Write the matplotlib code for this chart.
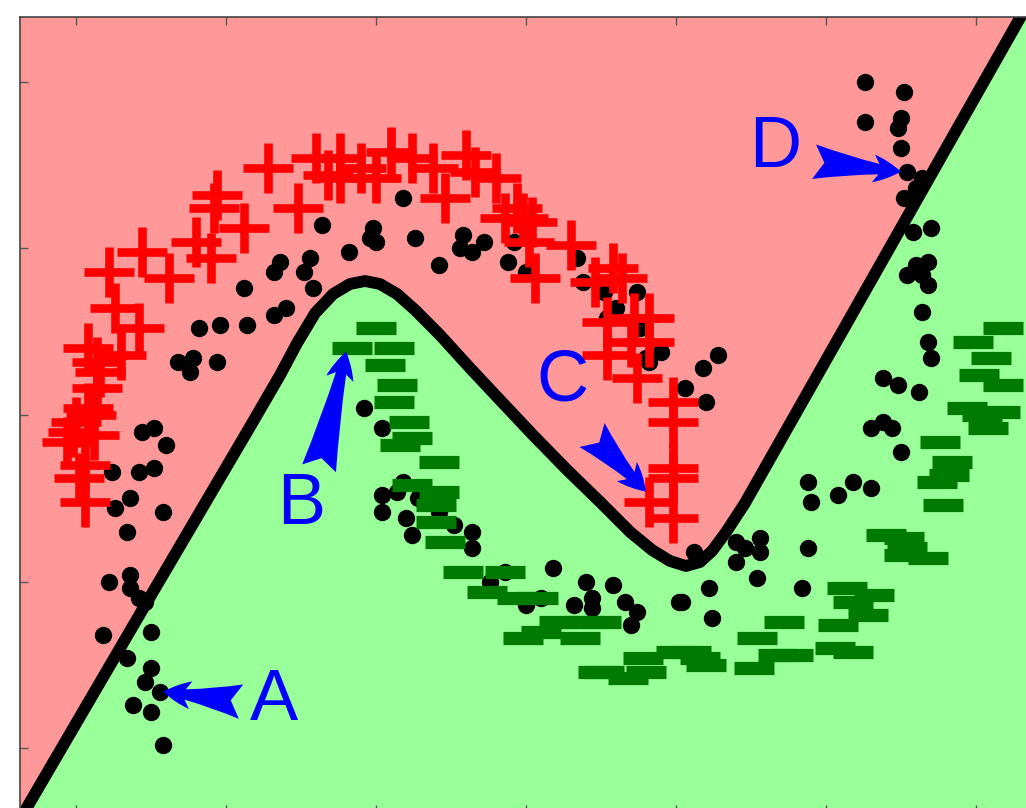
import matplotlib
matplotlib.use('Agg')
import matplotlib.pyplot as plt

# decision boundary between the two classes
boundary_x = [-1.227, -1.163, -0.787, -0.407, -0.320, -0.263, -0.203, -0.143, -0.087, -0.037,
              0.013, 0.070, 0.130, 0.213, 0.313, 0.413, 0.523, 0.637, 0.747, 0.847,
              0.920, 0.980, 1.033, 1.080, 1.120, 1.167, 1.230, 2.137, 2.213]
boundary_y = [-1.275, -1.176, -0.597, -0.015, 0.120, 0.216, 0.306, 0.363, 0.393, 0.402,
              0.393, 0.363, 0.315, 0.240, 0.141, 0.045, -0.060, -0.165, -0.261, -0.351,
              -0.405, -0.438, -0.453, -0.441, -0.408, -0.351, -0.264, 1.176, 1.296]

# labelled class +1 (upper moon)
red_x = [-1.01, -1.03, -0.95, -0.97, -0.99, -0.97, -0.96, -0.92, -0.93, -0.96,
         -0.93, -0.85, -0.79, -0.87, -0.89, -0.78, -0.69, -0.60, -0.55, -0.54,
         -0.53, -0.44, -0.26, -0.36, -0.20, -0.12, -0.12, -0.05, 0.00, 0.05,
         0.19, 0.23, 0.30, 0.33, 0.40, 0.43, 0.49, 0.52, 0.53, 0.51,
         0.65, 0.73, 0.79, 0.82, 0.91, 0.77, 0.85, 0.77, 0.87, 0.91,
         0.86, 0.99, 0.99, 0.99, 0.99, 0.99, 0.91, -1.00, -0.94, -0.16,
         0.12, 0.47]
red_y = [-0.05, -0.08, 0.00, -0.15, -0.19, -0.26, 0.20, 0.13, 0.08, 0.02,
         0.16, 0.18, 0.26, 0.32, 0.43, 0.49, 0.41, 0.52, 0.47, 0.62,
         0.66, 0.56, 0.62, 0.74, 0.77, 0.77, 0.71, 0.74, 0.71, 0.79,
         0.74, 0.65, 0.78, 0.73, 0.71, 0.59, 0.59, 0.58, 0.41, 0.52,
         0.51, 0.40, 0.44, 0.41, 0.29, 0.28, 0.22, 0.18, 0.11, 0.22,
         0.29, 0.04, -0.02, -0.16, -0.19, -0.31, -0.26, -0.02, -0.06, 0.72,
         0.77, 0.62]

# labelled class -1 (lower moon)
green_x = [0.00, -0.08, 0.06, 0.03, 0.07, 0.06, 0.11, 0.12, 0.08, 0.21,
           0.12, 0.21, 0.20, 0.20, 0.23, 0.29, 0.43, 0.37, 0.47, 0.54,
           0.61, 0.69, 0.75, 0.55, 0.49, 0.68, 0.89, 1.00, 0.74, 0.84,
           0.90, 0.76, 1.08, 1.10, 1.05, 1.36, 1.27, 1.34, 1.26, 1.39,
           1.57, 1.66, 1.59, 1.64, 1.54, 1.53, 1.59, 1.70, 1.76, 1.77,
           1.76, 1.84, 1.89, 1.87, 1.91, 1.92, 1.88, 2.04, 2.02, 1.97,
           2.08, 2.09, 2.01, 2.05, 1.99, 2.09]
green_y = [0.26, 0.20, 0.20, 0.15, 0.09, 0.04, -0.02, -0.07, -0.09, -0.14,
           -0.21, -0.23, -0.27, -0.32, -0.38, -0.47, -0.47, -0.53, -0.55, -0.55,
           -0.62, -0.62, -0.62, -0.65, -0.67, -0.67, -0.73, -0.71, -0.77, -0.79,
           -0.77, -0.77, -0.73, -0.75, -0.71, -0.62, -0.67, -0.72, -0.76, -0.72,
           -0.52, -0.54, -0.56, -0.60, -0.63, -0.70, -0.71, -0.36, -0.37, -0.40,
           -0.42, -0.43, -0.27, -0.20, -0.18, -0.14, -0.08, -0.04, 0.00, 0.02,
           0.01, 0.09, 0.12, 0.17, 0.22, 0.26]

# unlabelled points
dot_x = [-0.18, -0.09, -0.22, -0.32, -0.34, -0.24, -0.21, -0.44, -0.30, -0.34,
         -0.43, -0.52, -0.59, -0.53, -0.66, -0.61, -0.62, 0.09, -0.01, -0.02,
         0.00, 0.13, 0.21, 0.29, 0.28, 0.32, 0.36, 0.46, 0.44, 0.50,
         0.67, 0.69, 0.76, 0.87, 0.80, 0.77, 0.88, 0.95, 0.90, 0.91,
         1.03, 1.14, 1.09, 1.10, 1.63, 1.76, 1.63, 1.75, 1.74, 1.75,
         1.77, 1.82, 1.76, 1.80, 1.79, 1.85, 1.77, 1.80, 1.84, 1.82,
         1.84, 1.82, 1.84, 1.85, 1.69, 1.74, 1.81, 1.65, 1.69, 1.72,
         1.75, 1.44, 1.45, 1.54, 1.59, 1.65, 1.20, 1.23, 1.28, 1.28,
         1.20, 1.27, 1.44, 1.42, 1.11, 1.02, 1.12, 1.06, -0.04, 0.02,
         0.02, 0.07, 0.09, 0.14, 0.02, 0.10, 0.12, 0.21, 0.26, 0.32,
         0.32, 0.43, 0.38, 0.50, 0.55, 0.59, 0.70, 0.79, 0.72, 0.72,
         0.66, 0.83, 0.87, 0.85, 1.01, -0.78, -0.74, -0.70, -0.79, -0.74,
         -0.88, -0.82, -0.87, -0.71, -0.83, -0.82, -0.89, -0.82, -0.79, -0.77,
         -0.75, -0.91, -0.83, -0.75, -0.77, -0.72, -0.81, -0.75, -0.71]
dot_y = [0.57, 0.49, 0.47, 0.46, 0.43, 0.43, 0.38, 0.38, 0.32, 0.30,
         0.27, 0.27, 0.26, 0.16, 0.16, 0.17, 0.13, 0.65, 0.56, 0.53,
         0.52, 0.53, 0.45, 0.54, 0.50, 0.49, 0.52, 0.52, 0.46, 0.43,
         0.47, 0.40, 0.37, 0.37, 0.32, 0.29, 0.26, 0.19, 0.17, 0.16,
         0.08, 0.18, 0.14, 0.04, 1.00, 0.97, 0.88, 0.89, 0.86, 0.80,
         0.73, 0.71, 0.65, 0.68, 0.55, 0.56, 0.42, 0.45, 0.46, 0.42,
         0.39, 0.31, 0.22, 0.17, 0.11, 0.09, 0.07, -0.04, -0.02, -0.04,
         -0.11, -0.20, -0.26, -0.24, -0.20, -0.22, -0.38, -0.40, -0.37, -0.41,
         -0.44, -0.49, -0.40, -0.52, -0.52, -0.56, -0.61, -0.41, 0.02, -0.04,
         -0.24, -0.23, -0.20, -0.25, -0.29, -0.31, -0.36, -0.29, -0.33, -0.35,
         -0.40, -0.47, -0.50, -0.57, -0.55, -0.46, -0.50, -0.51, -0.55, -0.58,
         -0.57, -0.56, -0.59, -0.63, -0.56, -0.05, -0.04, -0.09, -0.17, -0.16,
         -0.17, -0.25, -0.28, -0.29, -0.35, -0.48, -0.50, -0.52, -0.55, -0.56,
         -0.65, -0.66, -0.73, -0.76, -0.80, -0.83, -0.87, -0.89, -0.99]

# annotated points
note_labels = ['A', 'B', 'C', 'D']
note_text_x = [-0.34, -0.25, 0.62, 1.33]
note_text_y = [-0.86, -0.27, 0.10, 0.80]
note_tail_x = [-0.45, -0.19, 0.72, 1.46]
note_tail_y = [-0.86, -0.16, -0.06, 0.76]
note_tip_x = [-0.71, -0.10, 0.90, 1.75]
note_tip_y = [-0.83, 0.19, -0.23, 0.73]

x_ticks = [-1.0, -0.5, 0.0, 0.5, 1.0, 1.5, 2.0]
y_ticks = [-1.0, -0.5, 0.0, 0.5, 1.0]

pink = (1.0, 0.6, 0.6)
light_green = (0.6, 1.0, 0.6)
dark_green = (0.0, 0.48, 0.0)

fig = plt.figure(figsize=(10.26, 8.08), dpi=100)
ax = fig.add_axes([20 / 1026, -5 / 808, 1016 / 1026, 796 / 808])

ax.fill_between(boundary_x, boundary_y, 3, color=pink, lw=0, zorder=0)
ax.fill_between(boundary_x, -3, boundary_y, color=light_green, lw=0, zorder=0)
ax.plot(boundary_x, boundary_y, color='black', lw=8.5,
        solid_joinstyle='round', solid_capstyle='round', zorder=2)

ax.plot(dot_x, dot_y, 'o', color='black', ms=12.5, mew=0, zorder=3)
ax.plot(red_x, red_y, '+', color='red', ms=36, mew=6.2, zorder=4)
ax.plot(green_x, green_y, '_', color=dark_green, ms=29, mew=9.5, zorder=4)

for lab, tx, ty, ax0, ay0, bx, by in zip(note_labels, note_text_x, note_text_y,
                                         note_tail_x, note_tail_y, note_tip_x, note_tip_y):
    ax.text(tx, ty, lab, color='blue', fontsize=52, family='Liberation Sans',
            ha='center', va='center', zorder=6)
    ax.annotate('', xy=(bx, by), xytext=(ax0, ay0),
                arrowprops=dict(arrowstyle='fancy,head_length=1.0,head_width=1.0,tail_width=1.25',
                                fc='blue', ec='blue', lw=0, mutation_scale=20,
                                shrinkA=0, shrinkB=0),
                zorder=6)

ax.set_xlim(-1.187, 2.2)
ax.set_ylim(-1.194, 1.194)
ax.set_xticks(x_ticks)
ax.set_yticks(y_ticks)
ax.set_xticklabels([])
ax.set_yticklabels([])
ax.tick_params(direction='in', length=6, width=1, color='#555555',
               top=True, right=True)
for sp in ax.spines.values():
    sp.set_color('#444444')
    sp.set_linewidth(1.2)

fig.savefig('out.png', dpi=100)
plt.close(fig)
